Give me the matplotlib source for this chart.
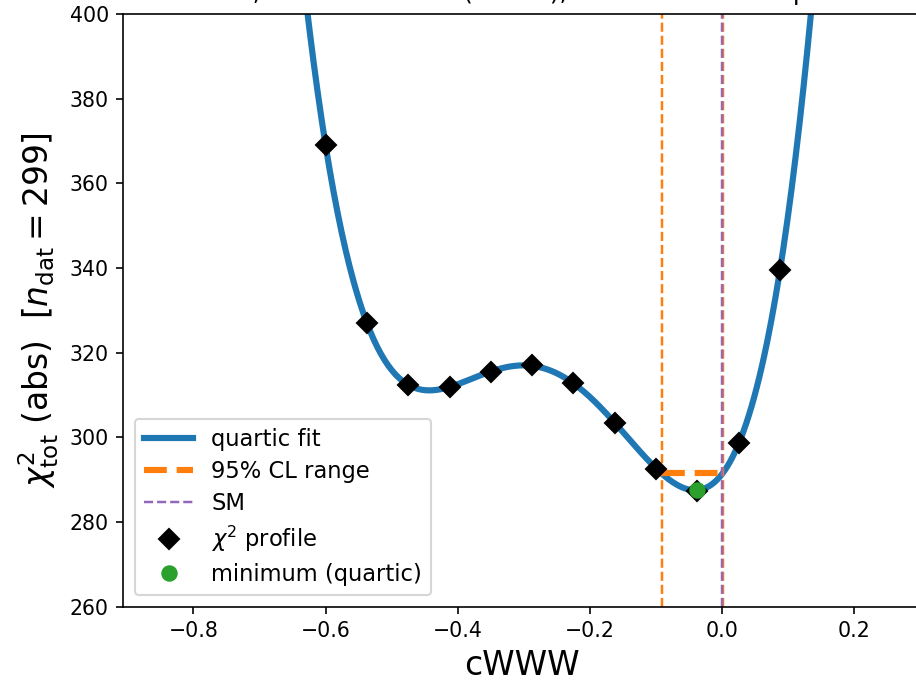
import numpy as np
import matplotlib
matplotlib.use("Agg")
from matplotlib import pyplot as plt

# chi2 profile points
c_scan = [-0.6, -0.5375, -0.475, -0.4125, -0.35, -0.2875, -0.225, -0.1625, -0.1, -0.0375, 0.025, 0.0875]
chi2_scan = [369.0, 327.1, 312.4, 311.9, 315.4, 317.0, 312.8, 303.5, 292.6, 287.4, 298.7, 339.5]

c_min = -0.0383
chi2_min = 287.6
cl_lo = -0.0907
cl_hi = 0.0015
chi2_cl = 291.6
c_sm = 0.0

ndat = 299
title = "cWWW scan, diboson 13 TeV (ATLAS), binned likelihood profile"

fig = plt.figure(figsize=(916/148, 681/148), dpi=148)
ax = fig.add_axes([123.3/916, 1 - 606.7/681, (920.5 - 123.3)/916, (606.7 - 14)/681])

coef = np.polyfit(c_scan, chi2_scan, 4)
xs = np.linspace(-0.906, 0.3, 600)
ax.plot(xs, np.polyval(coef, xs), color="C0", lw=3, label="quartic fit")
ax.plot([cl_lo, cl_hi], [chi2_cl, chi2_cl], color="C1", lw=3, ls="--", label="95% CL range")
ax.axvline(cl_lo, color="C1", lw=1.2, ls="--")
ax.axvline(cl_hi, color="C1", lw=1.2, ls="--")
ax.axvline(c_sm, color="C4", lw=1.2, ls="--", label="SM")
ax.plot(c_scan, chi2_scan, "kD", ms=7, ls="none", label=r"$\chi^2$ profile")
ax.plot([c_min], [chi2_min], "o", color="C2", ms=7, ls="none", label="minimum (quartic)")

ax.set_xlim(-0.906, 0.3)
ax.set_ylim(260, 400)
ax.set_yticks(np.arange(260, 401, 20))
ax.set_xlabel("cWWW", fontsize=16)
ax.set_ylabel(r"$\chi^2_{\rm tot}$ (abs)  [$n_{\rm dat}=%d$]" % ndat, fontsize=16)
ax.legend(loc="lower left", fontsize=11, labelspacing=0.4, handlelength=2.2)

fig.text(101/916, 1.0, title, fontsize=12, ha="left", va="baseline")

fig.savefig("out.png", dpi=148)
